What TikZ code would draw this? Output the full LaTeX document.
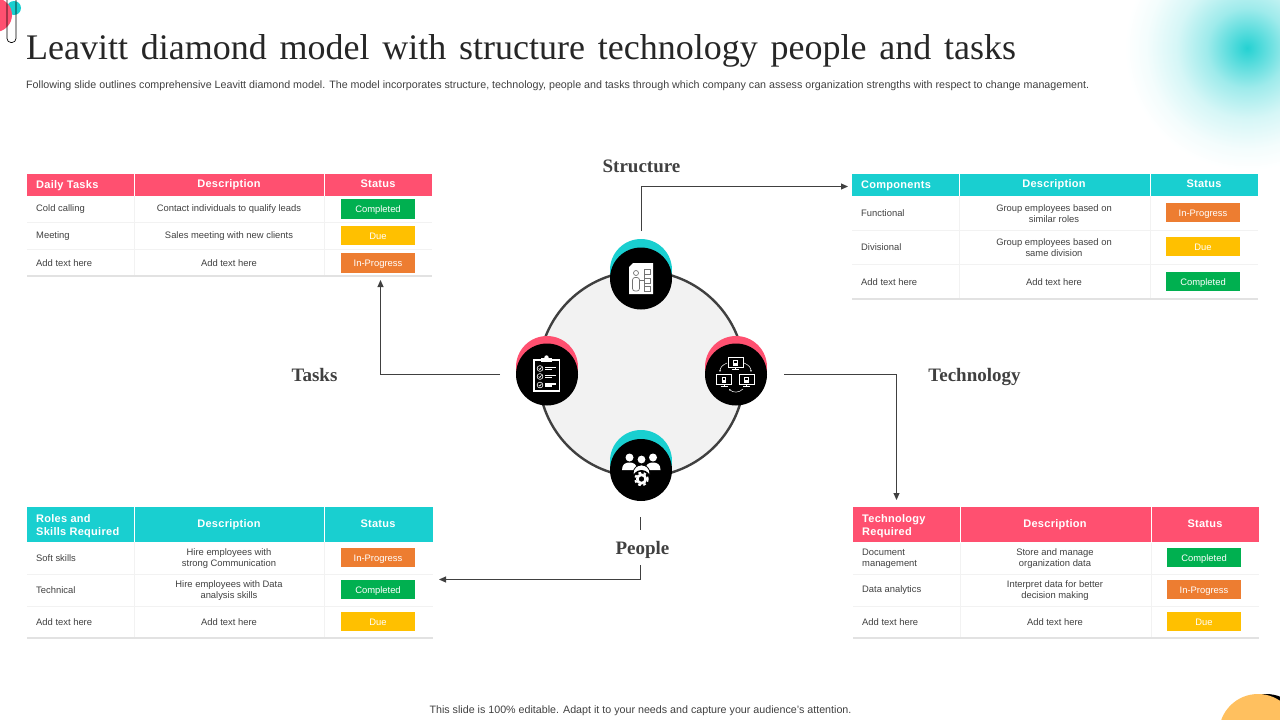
\documentclass[tikz,border=0pt]{standalone}
\usepackage{fontspec}
\setmainfont{Liberation Sans}
\newfontfamily\titlefont{Liberation Serif}
\newfontfamily\labelfont{Liberation Serif}
\newfontfamily\hdrfont[LetterSpace=2.5,BoldFont={Liberation Sans Bold}]{Liberation Sans}
\usetikzlibrary{arrows.meta,shadings}
\definecolor{pinkc}{HTML}{FF5070}
\definecolor{tealc}{HTML}{19CFD0}
\definecolor{txtc}{HTML}{404040}
\definecolor{greenc}{HTML}{00B050}
\definecolor{yellowc}{HTML}{FFC000}
\definecolor{orangec}{HTML}{ED7D31}
\definecolor{gridc}{HTML}{F2F2F2}
\definecolor{basec}{HTML}{E2E2E2}
\definecolor{linec}{HTML}{404040}
\definecolor{sunc}{HTML}{FFC05F}
\pgfdeclareradialshading{glow}{\pgfpoint{0bp}{0bp}}{color(0bp)=(tealc!95!white); color(15bp)=(tealc!75!white); color(40bp)=(tealc!42!white); color(70bp)=(tealc!18!white); color(100bp)=(tealc!5!white); color(122bp)=(white)}
\tikzset{
  hdrcell/.style={inner sep=0pt,text=white,font=\hdrfont\fontsize{11}{13}\selectfont\bfseries,align=center,text height=8pt,text depth=2.5pt},
  hdrleft/.style={inner sep=0pt,text=white,font=\hdrfont\fontsize{11}{13}\selectfont\bfseries,anchor=west,align=left,yshift=-1.2pt},
  bodycell/.style={inner sep=0pt,text=txtc,font=\fontsize{9.4}{11}\selectfont,align=center,yshift=-.4pt},
  bodyleft/.style={bodycell,anchor=west,align=left},
  statbox/.style={inner sep=0pt,minimum width=74pt,minimum height=19.5pt,text=white,font=\fontsize{9.4}{11}\selectfont,text height=9pt,text depth=1.2pt},
  topiclabel/.style={inner sep=0pt,anchor=base,text=txtc,font=\labelfont\bfseries\fontsize{19}{22}\selectfont},
  grid/.style={draw=gridc,line width=.8pt},
  baseline/.style={draw=basec,line width=1.6pt},
  hub/.style={circle,fill=black,minimum size=62pt,inner sep=0pt},
  backteal/.style={circle,fill=tealc,minimum size=62pt,inner sep=0pt},
  backpink/.style={circle,fill=pinkc,minimum size=62pt,inner sep=0pt},
  conn/.style={draw=linec,line width=.9pt},
  arrowconn/.style={conn,-{Triangle[length=7pt,width=6pt]}},
  ico/.style={draw=white,line width=1.1pt},
  orggray/.style={draw=black!55,line width=.7pt}
}
% header band: x1 x2 x3 x4 y1 y2 colour
\newcommand{\headband}[7]{%
  \fill[#7] (#1,#5) rectangle (#4,#6);
  \draw[white,line width=1pt] (#2,#5) -- (#2,#6) (#3,#5) -- (#3,#6);
}
% rows: x1 x2 x3 x4 ytop y1 y2 ybottom
\newcommand{\rowgrid}[8]{%
  \draw[grid] (#1,#6) -- (#4,#6) (#1,#7) -- (#4,#7);
  \draw[grid] (#2,#5) -- (#2,#8) (#3,#5) -- (#3,#8);
  \draw[baseline] (#1,#8) -- (#4,#8);
}
\begin{document}
\begin{tikzpicture}[x=1pt,y=-1pt]
\useasboundingbox (0,0) rectangle (1280,720);
\begin{scope}
\clip (0,0) rectangle (1280,720);
\node[inner sep=0pt] (glowspot) at (1247,48) {\pgfuseshading{glow}};
% top-left ornament
\fill[tealc] (14,8) circle (7);
\fill[pinkc] (-5,15) circle (17);
\draw[black,line width=.7pt,rounded corners=4pt] (7,-3) -- (7,42.5) -- (16,42.5) -- (16,-3);
% bottom-right ornament
\fill[black] (1266,733) circle (39);
\fill[sunc] (1258,733) circle (39);
\end{scope}

\node[inner sep=0pt,anchor=west,text=black!85,font=\titlefont\fontsize{36}{40}\selectfont] (title) at (26,50.5) {\spaceskip=12.75pt Leavitt diamond model with structure technology people and tasks};
\node[inner sep=0pt,anchor=west,text=txtc,font=\fontsize{10.7}{12}\selectfont] (subtitle) at (26,86) {Following slide outlines comprehensive Leavitt diamond model. The model incorporates structure, technology, people and tasks through which company can assess organization strengths with respect to change management.};
\node[inner sep=0pt,text=txtc,font=\fontsize{10.7}{12}\selectfont] (footer) at (640.5,710.5) {This slide is 100\% editable. Adapt it to your needs and capture your audience’s attention.};

% ---------- Table: Daily tasks
\headband{27}{134.5}{324.5}{432}{174}{195.5}{pinkc}
\rowgrid{27}{134.5}{324.5}{432}{196}{222.5}{249.5}{276}
\node[hdrleft] (a0) at (36,184.5) {Daily Tasks};
\node[hdrcell] (a1) at (229,184.5) {Description};
\node[hdrcell] (a2) at (378,184.5) {Status};
\node[bodyleft] (a3) at (36,209) {Cold calling};
\node[bodycell] (a4) at (229,209) {Contact individuals to qualify leads};
\node[statbox,fill=greenc] (a5) at (378,209) {Completed};
\node[bodyleft] (a6) at (36,236) {Meeting};
\node[bodycell] (a7) at (229,236) {Sales meeting with new clients};
\node[statbox,fill=yellowc] (a8) at (378,235.5) {Due};
\node[bodyleft] (a9) at (36,263) {Add text here};
\node[bodycell] (a10) at (229,263) {Add text here};
\node[statbox,fill=orangec] (a11) at (378,263) {In-Progress};

% ---------- Table: Components
\headband{852}{959.5}{1150}{1258}{174}{195.5}{tealc}
\rowgrid{852}{959.5}{1150}{1258}{196}{230}{264}{299}
\node[hdrleft] (b0) at (861,184.5) {Components};
\node[hdrcell] (b1) at (1054,184.5) {Description};
\node[hdrcell] (b2) at (1204,184.5) {Status};
\node[bodyleft] (b3) at (861,212.5) {Functional};
\node[bodycell] (b4) at (1054,213.5) {Group employees based on\\similar roles};
\node[statbox,fill=orangec] (b5) at (1203,212.5) {In-Progress};
\node[bodyleft] (b6) at (861,246.5) {Divisional};
\node[bodycell] (b7) at (1054,247.5) {Group employees based on\\same division};
\node[statbox,fill=yellowc] (b8) at (1203,246.5) {Due};
\node[bodyleft] (b9) at (861,282) {Add text here};
\node[bodycell] (b10) at (1054,282) {Add text here};
\node[statbox,fill=greenc] (b11) at (1203,281.5) {Completed};

% ---------- Table: Roles
\headband{27}{134.5}{324.5}{433}{507}{541.5}{tealc}
\rowgrid{27}{134.5}{324.5}{433}{542}{574}{606}{638}
\node[hdrleft] (c0) at (36,524.5) {Roles and\\Skills Required};
\node[hdrcell] (c1) at (229,524.5) {Description};
\node[hdrcell] (c2) at (378,524.5) {Status};
\node[bodyleft] (c3) at (36,558) {Soft skills};
\node[bodycell] (c4) at (229,558.5) {Hire employees with\\strong Communication};
\node[statbox,fill=orangec] (c5) at (378,557.5) {In-Progress};
\node[bodyleft] (c6) at (36,590) {Technical};
\node[bodycell] (c7) at (229,590.5) {Hire employees with Data\\analysis skills};
\node[statbox,fill=greenc] (c8) at (378,589.5) {Completed};
\node[bodyleft] (c9) at (36,622) {Add text here};
\node[bodycell] (c10) at (229,622) {Add text here};
\node[statbox,fill=yellowc] (c11) at (378,621.5) {Due};

% ---------- Table: Technology
\headband{853}{960.5}{1151}{1259}{507}{542}{pinkc}
\rowgrid{853}{960.5}{1151}{1259}{543}{574}{606}{638}
\node[hdrleft] (d0) at (862,525) {Technology\\Required};
\node[hdrcell] (d1) at (1055,525) {Description};
\node[hdrcell] (d2) at (1205,525) {Status};
\node[bodyleft] (d3) at (862,558.5) {Document\\management};
\node[bodycell] (d4) at (1055,558.5) {Store and manage\\organization data};
\node[statbox,fill=greenc] (d5) at (1204,557.5) {Completed};
\node[bodyleft] (d6) at (862,590) {Data analytics};
\node[bodycell] (d7) at (1055,590.5) {Interpret data for better\\decision making};
\node[statbox,fill=orangec] (d8) at (1204,589.5) {In-Progress};
\node[bodyleft] (d9) at (862,622) {Add text here};
\node[bodycell] (d10) at (1055,622) {Add text here};
\node[statbox,fill=yellowc] (d11) at (1204,621.5) {Due};

% ---------- Central ring
\node[circle,fill=black!5,draw=linec,line width=2.4pt,minimum size=206pt,inner sep=0pt] (ring) at (641.5,374) {};
\node[backteal] (topback) at (641,270) {};
\node[backpink] (leftback) at (547,367) {};
\node[backpink] (rightback) at (736,367) {};
\node[backteal] (botback) at (641,461) {};
\node[hub] (tophub) at (641,278.5) {};
\node[hub] (lefthub) at (547,374.5) {};
\node[hub] (righthub) at (736,374.5) {};
\node[hub] (bothub) at (641,470) {};

% structure icon
\fill[white] (633,263) -- (653,263) -- (653,294) -- (629,294) -- (629,267) -- cycle;
\draw[orggray] (636,273) circle (2.5);
\draw[orggray,rounded corners=2.5pt] (632.5,277.5) rectangle (639.5,291);
\draw[orggray] (640,280) -- (644.5,280) (644.5,271.5) -- (644.5,288.5);
\draw[orggray] (644.5,269.5) rectangle (650,274.5) (644.5,278) rectangle (650,283) (644.5,286.5) rectangle (650,291.5);

% technology icon
\foreach \mx/\my in {735.5/362.5,724/379.5,746.5/379.5}{
  \draw[ico,line width=.9pt] (\mx-7.5,\my-4.8) rectangle (\mx+7.5,\my+4.8);
  \draw[white,line width=1.2pt] (\mx-3.5,\my+6.7) -- (\mx+3.5,\my+6.7);
  \draw[white,line width=.9pt] (\mx,\my+4.8) -- (\mx,\my+6.5);
  \fill[white] (\mx-2.4,\my-3) rectangle (\mx+2.4,\my+3);
  \fill[black] (\mx-1.2,\my-1.8) rectangle (\mx+1.2,\my+.2);
}
\draw[white,line width=.5pt,-{Stealth[length=2pt]}] (727,363) .. controls (722,365) and (720,368) .. (720,372);
\draw[white,line width=.5pt,-{Stealth[length=2pt]}] (744,363) .. controls (749,365) and (751,368) .. (751,372);
\draw[white,line width=.5pt,-{Stealth[length=2pt]}] (743,389) .. controls (739,393) and (733,393) .. (729,389);

% people icon
\foreach \px/\py in {629.5/457.5,653/457.5}{
  \fill[white] (\px,\py) circle (4);
  \fill[white] (\px-7.5,\py+12.5) .. controls (\px-7.5,\py+6.5) and (\px-4,\py+5) .. (\px,\py+5) .. controls (\px+4,\py+5) and (\px+7.5,\py+6.5) .. (\px+7.5,\py+12.5) -- cycle;
}
\fill[white] (641.5,459.5) circle (3.9);
\fill[white,draw=black,line width=.8pt] (633,474) .. controls (633,468) and (637,465) .. (641.5,465) .. controls (646,465) and (650,468) .. (650,474) -- cycle;
\fill[black] (641.5,479) circle (9);
\draw[white,line width=2pt,dash pattern=on 2.6pt off 2.6pt] (641.5,479) circle (6.2);
\draw[white,line width=2.6pt] (641.5,479) circle (4.2);

% tasks icon
\draw[ico,line width=1.6pt] (534,360) rectangle (559.5,391);
\fill[white] (541,358) rectangle (552,362);
\fill[white] (546.5,357.5) circle (2.2);
\foreach \ty in {368.5,376.5,385}{
  \draw[white,line width=.6pt] (540,\ty) circle (2.9);
  \draw[white,line width=.6pt] (538.7,\ty) -- (539.8,\ty+1.1) -- (541.5,\ty-1.2);
  \fill[white] (545,\ty-1.8) rectangle (556,\ty-.4);
  \fill[white] (545,\ty+.4) rectangle (552,\ty+1.6);
}

% ---------- Labels and connectors
\node[topiclabel] (lstructure) at (641.5,172) {Structure};
\node[topiclabel] (ltasks) at (314.5,381) {Tasks};
\node[topiclabel] (ltech) at (974.5,381) {Technology};
\node[topiclabel] (lpeople) at (642.5,554) {People};

\coordinate (s0) at (641.5,231);
\coordinate (s1) at (848,186.5);
\coordinate (e0) at (784,374.5);
\coordinate (e1) at (896.5,500);
\coordinate (k0) at (500,374.5);
\coordinate (k1) at (380.5,280);
\coordinate (p0) at (640.5,517);
\coordinate (p1) at (640.5,530);
\coordinate (p2) at (640.5,565);
\coordinate (p3) at (439,579.5);

\draw[arrowconn] (s0) |- (s1);
\draw[arrowconn] (e0) -| (e1);
\draw[arrowconn] (k0) -| (k1);
\draw[conn] (p0) -- (p1);
\draw[arrowconn] (p2) |- (p3);
\end{tikzpicture}
\end{document}
